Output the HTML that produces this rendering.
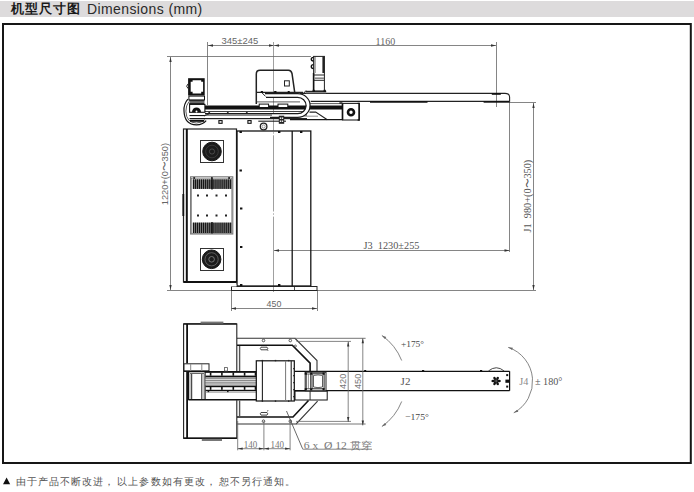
<!DOCTYPE html>
<html><head><meta charset="utf-8"><style>
html,body{margin:0;padding:0;background:#fff;}
body{width:694px;height:492px;overflow:hidden;position:relative;font-family:"Liberation Sans",sans-serif;}
.hdr{position:absolute;left:0;top:1px;width:694px;height:15.5px;background:#dddbdc;}
svg{position:absolute;left:0;top:0;}
</style></head><body>
<div class="hdr"></div>

<svg width="694" height="492" viewBox="0 0 694 492" shape-rendering="auto">
<line x1="208" y1="45.5" x2="496" y2="45.5" stroke="#666" stroke-width="0.8" />
<polygon points="208,45.5 213,44.35 213,46.65" fill="#333"/>
<polygon points="274,45.5 269,44.35 269,46.65" fill="#333"/>
<polygon points="274,45.5 279,44.35 279,46.65" fill="#333"/>
<polygon points="496,45.5 491,44.35 491,46.65" fill="#333"/>
<line x1="207.5" y1="42" x2="207.5" y2="105" stroke="#666" stroke-width="0.8" />
<line x1="496.5" y1="42" x2="496.5" y2="107" stroke="#666" stroke-width="0.8" />
<line x1="273.5" y1="42" x2="273.5" y2="130.5" stroke="#888" stroke-width="0.8" />
<line x1="273.5" y1="132.3" x2="273.5" y2="133.6" stroke="#888" stroke-width="0.8" />
<line x1="273.5" y1="135.3" x2="273.5" y2="211.5" stroke="#888" stroke-width="0.8" />
<line x1="273.5" y1="213.4" x2="273.5" y2="214.7" stroke="#888" stroke-width="0.8" />
<line x1="273.5" y1="216.6" x2="273.5" y2="292" stroke="#888" stroke-width="0.8" />
<line x1="167" y1="56.5" x2="311" y2="56.5" stroke="#666" stroke-width="0.8" />
<line x1="170.5" y1="57" x2="170.5" y2="290" stroke="#666" stroke-width="0.8" />
<polygon points="170.5,57 169.35,62 171.65,62" fill="#333"/>
<polygon points="170.5,290 169.35,285 171.65,285" fill="#333"/>
<line x1="167" y1="290.5" x2="536" y2="290.5" stroke="#666" stroke-width="0.8" />
<line x1="274" y1="250.5" x2="509.5" y2="250.5" stroke="#666" stroke-width="0.8" />
<polygon points="274,250.5 279,249.35 279,251.65" fill="#333"/>
<polygon points="509.5,250.5 504.5,249.35 504.5,251.65" fill="#333"/>
<line x1="509.5" y1="102" x2="509.5" y2="252" stroke="#666" stroke-width="0.8" />
<line x1="509" y1="102.5" x2="536" y2="102.5" stroke="#666" stroke-width="0.8" />
<line x1="533.5" y1="103" x2="533.5" y2="290" stroke="#666" stroke-width="0.8" />
<polygon points="533.5,103 532.35,108 534.65,108" fill="#333"/>
<polygon points="533.5,290 532.35,285 534.65,285" fill="#333"/>
<line x1="231" y1="308.5" x2="317" y2="308.5" stroke="#666" stroke-width="0.8" />
<polygon points="231,308.5 236,307.35 236,309.65" fill="#333"/>
<polygon points="317,308.5 312,307.35 312,309.65" fill="#333"/>
<line x1="231.5" y1="290" x2="231.5" y2="311" stroke="#666" stroke-width="0.8" />
<line x1="317.5" y1="290" x2="317.5" y2="311" stroke="#666" stroke-width="0.8" />
<text x="221.6" y="44.3" font-size="9.6" fill="#666" font-family="Liberation Sans" textLength="36.7" lengthAdjust="spacingAndGlyphs" >345±245</text>
<text x="375.6" y="44.8" font-size="11.3" fill="#666" font-family="Liberation Serif" textLength="19.6" lengthAdjust="spacingAndGlyphs" >1160</text>
<text x="363.6" y="249" font-size="11.3" fill="#555" font-family="Liberation Serif" textLength="55.8" lengthAdjust="spacingAndGlyphs" >J3&#160;&#160;1230±255</text>
<text x="266.6" y="306.6" font-size="9" fill="#666" font-family="Liberation Sans" textLength="14.8" lengthAdjust="spacingAndGlyphs" >450</text>
<text x="167.9" y="205.2" font-size="9.5" fill="#666" font-family="Liberation Sans" textLength="62.2" lengthAdjust="spacingAndGlyphs" transform="rotate(-90 167.9 205.2)" >1220+(0〜350)</text>
<text x="531.4" y="232.4" font-size="10.4" fill="#555" font-family="Liberation Serif" textLength="72.6" lengthAdjust="spacingAndGlyphs" transform="rotate(-90 531.4 232.4)" >J1&#160;&#160;980+(0〜350)</text>
<rect x="183.5" y="129" width="53" height="153" stroke="#222" stroke-width="1.2" fill="#fff" />
<line x1="186.8" y1="129" x2="186.8" y2="282" stroke="#111" stroke-width="2" />
<line x1="183.5" y1="282" x2="236.5" y2="282" stroke="#111" stroke-width="2" />
<rect x="200.5" y="140.5" width="23" height="22" stroke="#333" stroke-width="1" fill="none" />
<circle cx="212" cy="151.5" r="9.3" stroke="#161616" stroke-width="1" fill="#1c1c1c"/>
<circle cx="212" cy="151.5" r="6.3" stroke="#555" stroke-width="0.5" fill="none"/>
<circle cx="212" cy="151.5" r="2.6" stroke="#666" stroke-width="0.6" fill="none"/>
<rect x="200.5" y="248.5" width="23" height="22" stroke="#333" stroke-width="1" fill="none" />
<circle cx="211.6" cy="259.3" r="9.3" stroke="#161616" stroke-width="1" fill="#1c1c1c"/>
<circle cx="211.6" cy="259.3" r="6.6" stroke="#777" stroke-width="0.7" fill="none"/>
<circle cx="211.6" cy="259.3" r="2.8" stroke="#888" stroke-width="0.8" fill="none"/>
<rect x="190.6" y="176.8" width="42.2" height="57.2" stroke="#777" stroke-width="1.1" fill="none" />
<rect x="191.6" y="178.2" width="40.2" height="55" stroke="#666" stroke-width="0.6" fill="none" />
<rect x="192.5" y="179.3" width="38.4" height="9.6" fill="#9a9a9a"/>
<rect x="192.5" y="222.6" width="38.4" height="10.4" fill="#9a9a9a"/>
<rect x="193.0" y="179.3" width="1.25" height="9.6" fill="#151515"/>
<rect x="193.0" y="222.6" width="1.25" height="10.4" fill="#151515"/>
<rect x="194.95" y="179.3" width="1.25" height="9.6" fill="#151515"/>
<rect x="194.95" y="222.6" width="1.25" height="10.4" fill="#151515"/>
<rect x="196.9" y="179.3" width="1.25" height="9.6" fill="#151515"/>
<rect x="196.9" y="222.6" width="1.25" height="10.4" fill="#151515"/>
<rect x="198.85" y="179.3" width="1.25" height="9.6" fill="#151515"/>
<rect x="198.85" y="222.6" width="1.25" height="10.4" fill="#151515"/>
<rect x="200.8" y="179.3" width="1.25" height="9.6" fill="#151515"/>
<rect x="200.8" y="222.6" width="1.25" height="10.4" fill="#151515"/>
<rect x="202.75" y="179.3" width="1.25" height="9.6" fill="#151515"/>
<rect x="202.75" y="222.6" width="1.25" height="10.4" fill="#151515"/>
<rect x="204.7" y="179.3" width="1.25" height="9.6" fill="#151515"/>
<rect x="204.7" y="222.6" width="1.25" height="10.4" fill="#151515"/>
<rect x="206.65" y="179.3" width="1.25" height="9.6" fill="#151515"/>
<rect x="206.65" y="222.6" width="1.25" height="10.4" fill="#151515"/>
<rect x="208.6" y="179.3" width="1.25" height="9.6" fill="#151515"/>
<rect x="208.6" y="222.6" width="1.25" height="10.4" fill="#151515"/>
<rect x="210.55" y="179.3" width="1.25" height="9.6" fill="#151515"/>
<rect x="210.55" y="222.6" width="1.25" height="10.4" fill="#151515"/>
<rect x="212.5" y="179.3" width="1.25" height="9.6" fill="#151515"/>
<rect x="212.5" y="222.6" width="1.25" height="10.4" fill="#151515"/>
<rect x="214.45" y="179.3" width="1.25" height="9.6" fill="#151515"/>
<rect x="214.45" y="222.6" width="1.25" height="10.4" fill="#151515"/>
<rect x="216.4" y="179.3" width="1.25" height="9.6" fill="#151515"/>
<rect x="216.4" y="222.6" width="1.25" height="10.4" fill="#151515"/>
<rect x="218.35" y="179.3" width="1.25" height="9.6" fill="#151515"/>
<rect x="218.35" y="222.6" width="1.25" height="10.4" fill="#151515"/>
<rect x="220.3" y="179.3" width="1.25" height="9.6" fill="#151515"/>
<rect x="220.3" y="222.6" width="1.25" height="10.4" fill="#151515"/>
<rect x="222.25" y="179.3" width="1.25" height="9.6" fill="#151515"/>
<rect x="222.25" y="222.6" width="1.25" height="10.4" fill="#151515"/>
<rect x="224.2" y="179.3" width="1.25" height="9.6" fill="#151515"/>
<rect x="224.2" y="222.6" width="1.25" height="10.4" fill="#151515"/>
<rect x="226.15" y="179.3" width="1.25" height="9.6" fill="#151515"/>
<rect x="226.15" y="222.6" width="1.25" height="10.4" fill="#151515"/>
<rect x="228.1" y="179.3" width="1.25" height="9.6" fill="#151515"/>
<rect x="228.1" y="222.6" width="1.25" height="10.4" fill="#151515"/>
<rect x="230.05" y="179.3" width="1.25" height="9.6" fill="#151515"/>
<rect x="230.05" y="222.6" width="1.25" height="10.4" fill="#151515"/>
<rect x="211.3" y="178.5" width="1.4" height="11" fill="#111"/>
<rect x="211.3" y="222" width="1.4" height="11.5" fill="#111"/>
<rect x="193.29999999999998" y="177.2" width="1.8" height="1.6" fill="#111"/>
<rect x="211.0" y="177.2" width="1.8" height="1.6" fill="#111"/>
<rect x="228.2" y="177.2" width="1.8" height="1.6" fill="#111"/>
<rect x="197" y="194.5" width="2" height="2" fill="#222"/>
<rect x="206" y="194.5" width="2" height="2" fill="#222"/>
<rect x="215.5" y="194.5" width="2" height="2" fill="#222"/>
<rect x="225" y="194.5" width="2" height="2" fill="#222"/>
<rect x="197" y="214.5" width="2" height="2" fill="#222"/>
<rect x="206" y="214.5" width="2" height="2" fill="#222"/>
<rect x="215.5" y="214.5" width="2" height="2" fill="#222"/>
<rect x="225" y="214.5" width="2" height="2" fill="#222"/>
<line x1="183.3" y1="194" x2="183.3" y2="216" stroke="#111" stroke-width="1.8" />
<rect x="237" y="131" width="73.8" height="155" stroke="#151515" stroke-width="1.3" fill="none" />
<line x1="292.2" y1="131" x2="292.2" y2="286" stroke="#151515" stroke-width="1.3" />
<rect x="239.5" y="131" width="2.4" height="2" fill="#111"/>
<rect x="278" y="131" width="2.4" height="2" fill="#111"/>
<rect x="300" y="131" width="2.4" height="2" fill="#111"/>
<rect x="239.5" y="169.5" width="2.4" height="2" fill="#111"/>
<rect x="240" y="207.5" width="2.4" height="2" fill="#111"/>
<rect x="240" y="246" width="2.4" height="2" fill="#111"/>
<rect x="240" y="284" width="2.4" height="2" fill="#111"/>
<rect x="278" y="284" width="2.4" height="2" fill="#111"/>
<rect x="231.5" y="286.5" width="85.5" height="4" stroke="#222" stroke-width="1" fill="none" />
<line x1="294.5" y1="286.5" x2="294.5" y2="290.5" stroke="#222" stroke-width="0.8" />
<rect x="230.5" y="284.5" width="6" height="2" fill="#fff"/>
<rect x="205" y="105.5" width="137" height="4.0" fill="#111"/>
<rect x="205" y="111" width="102" height="1" fill="#444"/>
<rect x="205" y="113" width="102" height="1" fill="#1a1a1a"/>
<rect x="205" y="114" width="102" height="2" fill="#8a8a8a"/>
<rect x="205" y="118" width="102" height="1.2" fill="#222"/>
<rect x="189.5" y="115" width="15.5" height="1.1" fill="#1a1a1a"/>
<rect x="189.5" y="118" width="15.5" height="1.1" fill="#1a1a1a"/>
<path d="M204.5,116 L207,114.6 L209,114" stroke="#222" stroke-width="0.8" fill="none" />
<line x1="310" y1="103.6" x2="342" y2="103.6" stroke="#333" stroke-width="0.8" />
<path d="M309.5,112.1 L315.7,112.1 L327.3,119.7" stroke="#222" stroke-width="1.1" fill="none" />
<line x1="296" y1="116.2" x2="318" y2="116.2" stroke="#777" stroke-width="0.8" />
<line x1="290" y1="119.6" x2="342.5" y2="119.6" stroke="#151515" stroke-width="1.4" />
<rect x="261.0" y="91.2" width="1.8" height="1.6" fill="#111"/>
<rect x="274.5" y="91.2" width="1.8" height="1.6" fill="#111"/>
<rect x="218.9" y="120.6" width="3.2" height="2.7" stroke="#111" stroke-width="1.1" fill="none" />
<rect x="247.9" y="120.6" width="3.2" height="2.7" stroke="#111" stroke-width="1.1" fill="none" />
<polygon points="208.0,113 209.2,111.6 210.39999999999998,113" fill="#222"/>
<polygon points="226.60000000000002,113 227.8,111.6 229.0,113" fill="#222"/>
<polygon points="245.60000000000002,113 246.8,111.6 248.0,113" fill="#222"/>
<rect x="342.5" y="103.4" width="16.6" height="16.6" stroke="#222" stroke-width="1.1" fill="#fff" />
<line x1="342.5" y1="103.4" x2="342.5" y2="120" stroke="#111" stroke-width="1.6" />
<path d="M357.6,103.4 L359.2,103.4 L359.2,120 L357.6,120" stroke="#111" stroke-width="1.4" fill="none" />
<rect x="339.4" y="102.2" width="3" height="1.8" fill="#333"/>
<circle cx="351" cy="112.2" r="3.0" stroke="#111" stroke-width="2.6" fill="#fff"/>
<line x1="300" y1="93.4" x2="505" y2="93.4" stroke="#222" stroke-width="1.1" />
<line x1="310.7" y1="101.3" x2="509" y2="101.3" stroke="#222" stroke-width="1.2" />
<path d="M505,93.4 Q509.6,93.4 509.6,97 L509.6,101.7" stroke="#222" stroke-width="1.1" fill="none" />
<line x1="370" y1="101.9" x2="427.5" y2="101.9" stroke="#111" stroke-width="1.6" />
<line x1="483.6" y1="101.9" x2="509.6" y2="101.9" stroke="#111" stroke-width="1.6" />
<rect x="491.8" y="93" width="9" height="1.8" fill="#111"/>
<path d="M256.3,104 L256.3,74 Q256.3,70.3 260,70.3 L288.5,70.3 Q291.3,70.3 292,73.5 L294.7,92.3" stroke="#222" stroke-width="1.5" fill="none" />
<rect x="284.5" y="80.8" width="4.8" height="5.2" stroke="#222" stroke-width="1" fill="none" />
<line x1="256" y1="92.3" x2="303" y2="92.3" stroke="#222" stroke-width="1.2" />
<rect x="260.8" y="91" width="2" height="2" fill="#111"/>
<rect x="274.3" y="91" width="2" height="2" fill="#111"/>
<rect x="287.7" y="91" width="2" height="2" fill="#111"/>
<line x1="256" y1="101.9" x2="300" y2="101.9" stroke="#333" stroke-width="0.8" />
<rect x="259.2" y="104.1" width="9.4" height="3.4" stroke="#111" stroke-width="1" fill="#fff" />
<rect x="278" y="104.1" width="9.8" height="3.4" stroke="#111" stroke-width="1" fill="#fff" />
<path d="M265,95.5 L297.7,95.5 A10.4,10 0 0 1 297.7,115.5 L272,115.5" stroke="#fff" stroke-width="3.4" fill="none" />
<path d="M262,92.8 L265.5,96.4" stroke="#222" stroke-width="1" fill="none" />
<path d="M265,93.7 L297.7,93.7 A12.4,11.8 0 0 1 297.7,117.3 L270,117.3" stroke="#1a1a1a" stroke-width="1.2" fill="none" />
<path d="M266,97.3 L297.7,97.3 A8.4,8.2 0 0 1 297.7,113.7 L272,113.7" stroke="#1a1a1a" stroke-width="1.2" fill="none" />
<rect x="313.6" y="56.4" width="10.8" height="34.6" stroke="#222" stroke-width="1" fill="none" />
<line x1="315" y1="56.4" x2="315" y2="73" stroke="#333" stroke-width="0.8" />
<rect x="322.4" y="56.4" width="2.1" height="16.6" fill="#222"/>
<line x1="313.6" y1="73" x2="313.6" y2="91" stroke="#111" stroke-width="1.6" />
<line x1="313.6" y1="75" x2="324.4" y2="75" stroke="#222" stroke-width="1" />
<rect x="314" y="77.4" width="10" height="1.6" fill="#888"/>
<line x1="313.6" y1="80.3" x2="324.4" y2="80.3" stroke="#222" stroke-width="1" />
<path d="M313.4,57.4 A2.1,1.8 0 0 0 313.4,61 M313.4,64.6 A2.1,2 0 0 0 313.4,68.6" stroke="#111" stroke-width="1.4" fill="none" />
<rect x="305.6" y="90.8" width="20.6" height="1.6" fill="#222"/>
<rect x="306" y="92.1" width="20" height="1.2" fill="#888"/>
<rect x="312.6" y="89.8" width="2.2" height="2.2" fill="#111"/>
<rect x="323.6" y="89.8" width="2.2" height="2.2" fill="#111"/>
<path d="M306,90.5 L302.9,94.1" stroke="#222" stroke-width="1" fill="none" />
<line x1="258.3" y1="121.2" x2="286" y2="121.2" stroke="#222" stroke-width="1.1" />
<circle cx="263.6" cy="126.5" r="3.3" stroke="#222" stroke-width="1.3" fill="#fff"/>
<circle cx="263.6" cy="126.5" r="1.6" stroke="#555" stroke-width="0.6" fill="#fff"/>
<rect x="278.8" y="115.7" width="5.4" height="8.1" fill="#222"/>
<rect x="279.8" y="117.5" width="1.4" height="1.4" fill="#fff"/>
<rect x="281.8" y="117.5" width="1.4" height="1.4" fill="#fff"/>
<rect x="279.8" y="120.5" width="1.4" height="1.4" fill="#fff"/>
<rect x="281.8" y="120.5" width="1.4" height="1.4" fill="#fff"/>
<rect x="188.1" y="78.2" width="16.6" height="17.3" fill="#111"/>
<polygon points="192.6,80.2 201.2,80.2 201.2,81.8 203.1,81.8 203.1,91.8 201.2,91.8 201.2,93.5 192.6,93.5 192.6,91.8 190.7,91.8 190.7,81.8 192.6,81.8" fill="#fff"/>
<path d="M188.1,83.8 Q185.2,86.2 188.1,88.6" stroke="#222" stroke-width="1" fill="none" />
<rect x="188.9" y="96.1" width="15.6" height="3.8" stroke="#111" stroke-width="1" fill="#fff" />
<rect x="189.5" y="100.6" width="15" height="2.6" fill="#777"/>
<line x1="189.2" y1="100.7" x2="204.4" y2="100.7" stroke="#111" stroke-width="1" />
<line x1="189.2" y1="103.4" x2="204.4" y2="103.4" stroke="#111" stroke-width="1" />
<rect x="189.6" y="104.4" width="15.3" height="7.9" stroke="#111" stroke-width="1.1" fill="#fff" />
<path d="M192,112 A4.5,4.5 0 0 1 201,112 Z" stroke="#111" stroke-width="0" fill="#111" />
<circle cx="196.5" cy="111.4" r="1" stroke="none" stroke-width="0" fill="#fff"/>
<path d="M187.9,99.2 Q183.6,104 184,111 Q184.5,124.8 196.5,124.8 Q202.5,124.8 206.2,120.6" stroke="#111" stroke-width="1.2" fill="none" />
<path d="M189,101.5 Q185.8,105.5 185.9,111.2 Q186.3,123 196.5,123 Q201.5,123 205,119.5" stroke="#333" stroke-width="0.8" fill="none" />
<rect x="190" y="119.8" width="14" height="2" fill="#111"/>
<path d="M237,338.3 L295,338.3 L317,360.5 L317,371 M317.6,401.2 L296.2,424 L237,424" stroke="#333" stroke-width="1.1" fill="none" />
<path d="M237,345.3 L292.3,345.3 L310.1,363.1 L310.1,371" stroke="#111" stroke-width="1.6" fill="none" />
<line x1="239.6" y1="346" x2="239.6" y2="371" stroke="#555" stroke-width="1.4" />
<path d="M237,417 L293,417 L308.5,400.5" stroke="#111" stroke-width="1.6" fill="none" />
<line x1="239.6" y1="400.5" x2="239.6" y2="416.5" stroke="#555" stroke-width="1.4" />
<circle cx="263.5" cy="340.5" r="1.3" stroke="#333" stroke-width="0.8" fill="#fff"/>
<circle cx="290.3" cy="340.5" r="1.3" stroke="#333" stroke-width="0.8" fill="#fff"/>
<circle cx="263.5" cy="421.2" r="1.3" stroke="#333" stroke-width="0.8" fill="#fff"/>
<circle cx="290.3" cy="421.2" r="1.3" stroke="#333" stroke-width="0.8" fill="#fff"/>
<circle cx="295.4" cy="346" r="1" stroke="#333" stroke-width="0.7" fill="#fff"/>
<path d="M261,347.2 L267,347.2 Q268.5,348.5 267,349.8 L261,349.8 Q259.5,348.5 261,347.2 Z" stroke="#333" stroke-width="0.9" fill="#fff" />
<path d="M261,412.5 L267,412.5 Q268.5,413.8 267,415.1 L261,415.1 Q259.5,413.8 261,412.5 Z" stroke="#333" stroke-width="0.9" fill="#fff" />
<line x1="267.5" y1="349.5" x2="268" y2="351" stroke="#333" stroke-width="0.7" />
<line x1="267.5" y1="411.5" x2="268" y2="410" stroke="#333" stroke-width="0.7" />
<rect x="183.6" y="324" width="53.2" height="114.2" stroke="#222" stroke-width="1.1" fill="#fff" />
<line x1="187.1" y1="324" x2="187.1" y2="363.6" stroke="#111" stroke-width="1.8" />
<line x1="187.1" y1="372" x2="187.1" y2="438" stroke="#111" stroke-width="1.8" />
<line x1="183.5" y1="438.2" x2="236.8" y2="438.2" stroke="#111" stroke-width="1.6" />
<line x1="183.5" y1="323.9" x2="236.8" y2="323.9" stroke="#111" stroke-width="1.4" />
<rect x="200.6" y="321.6" width="22.8" height="2.0" fill="#777"/>
<rect x="201.8" y="438.8" width="20.2" height="2.2" fill="#777"/>
<rect x="184" y="363.8" width="25" height="7.4" stroke="#222" stroke-width="1" fill="#fff" />
<line x1="184" y1="371.2" x2="209" y2="371.2" stroke="#111" stroke-width="1.4" />
<line x1="190.7" y1="364" x2="190.7" y2="371" stroke="#888" stroke-width="1" />
<line x1="201.8" y1="364" x2="201.8" y2="371" stroke="#888" stroke-width="1" />
<rect x="188.4" y="371.2" width="68.5" height="29" fill="#fff"/>
<line x1="188.4" y1="371.6" x2="257" y2="371.6" stroke="#111" stroke-width="1.3" />
<line x1="188.4" y1="399.8" x2="257" y2="399.8" stroke="#111" stroke-width="1.4" />
<line x1="188.6" y1="371" x2="188.6" y2="400" stroke="#111" stroke-width="1.2" />
<line x1="190.2" y1="374" x2="190.2" y2="399" stroke="#999" stroke-width="0.8" />
<line x1="191.7" y1="374" x2="191.7" y2="399" stroke="#222" stroke-width="1" />
<line x1="201.8" y1="374" x2="201.8" y2="399" stroke="#222" stroke-width="1" />
<line x1="203.9" y1="374" x2="203.9" y2="399" stroke="#999" stroke-width="0.8" />
<line x1="190" y1="373.5" x2="204" y2="373.5" stroke="#444" stroke-width="0.8" />
<line x1="205.1" y1="371.6" x2="205.1" y2="400" stroke="#111" stroke-width="1.1" />
<rect x="205.1" y="372.2" width="52" height="0.8" fill="#111"/>
<rect x="205.6" y="375.6" width="51.4" height="1.7" fill="#111"/>
<rect x="209.79999999999998" y="372.5" width="1.6" height="3.2" fill="#111"/>
<rect x="209.79999999999998" y="387" width="1.6" height="2.8" fill="#111"/>
<rect x="221.1" y="372.5" width="1.6" height="3.2" fill="#111"/>
<rect x="221.1" y="387" width="1.6" height="2.8" fill="#111"/>
<rect x="232.5" y="372.5" width="1.6" height="3.2" fill="#111"/>
<rect x="232.5" y="387" width="1.6" height="2.8" fill="#111"/>
<rect x="243.79999999999998" y="372.5" width="1.6" height="3.2" fill="#111"/>
<rect x="243.79999999999998" y="387" width="1.6" height="2.8" fill="#111"/>
<rect x="254.7" y="372.5" width="1.6" height="3.2" fill="#111"/>
<rect x="254.7" y="387" width="1.6" height="2.8" fill="#111"/>
<rect x="205.6" y="377.3" width="51.4" height="8.4" fill="#8a8a8a"/>
<rect x="205.6" y="378.9" width="51.4" height="0.9" fill="#eee"/>
<rect x="205.6" y="381.3" width="51.4" height="0.9" fill="#eee"/>
<rect x="205.6" y="383.6" width="51.4" height="0.9" fill="#eee"/>
<rect x="205.6" y="385.8" width="51.4" height="1.4" fill="#111"/>
<rect x="205.6" y="389.8" width="51.4" height="1.4" fill="#111"/>
<rect x="207.6" y="391" width="1.6" height="1.2" fill="#111"/>
<rect x="227" y="391" width="1.6" height="1.2" fill="#111"/>
<line x1="205.6" y1="392.3" x2="257" y2="392.3" stroke="#888" stroke-width="0.7" />
<rect x="224.4" y="367.6" width="3.2" height="3.4" stroke="#555" stroke-width="0.8" fill="none" />
<rect x="256.3" y="360.8" width="38" height="40.2" stroke="#111" stroke-width="1.2" fill="#fff" />
<line x1="262.4" y1="360.8" x2="262.4" y2="401" stroke="#222" stroke-width="1.1" />
<line x1="285.6" y1="360.8" x2="285.6" y2="401" stroke="#777" stroke-width="1" />
<line x1="291.2" y1="360.8" x2="291.2" y2="401" stroke="#222" stroke-width="1.1" />
<rect x="261.7" y="359.9" width="1.4" height="1.4" fill="#222"/>
<rect x="261.7" y="400.4" width="1.4" height="1.4" fill="#222"/>
<rect x="274.8" y="359.9" width="1.4" height="1.4" fill="#222"/>
<rect x="274.8" y="400.4" width="1.4" height="1.4" fill="#222"/>
<rect x="288.0" y="359.9" width="1.4" height="1.4" fill="#222"/>
<rect x="288.0" y="400.4" width="1.4" height="1.4" fill="#222"/>
<rect x="293.2" y="368" width="1.5" height="1.3" fill="#222"/>
<rect x="293.2" y="375" width="1.5" height="1.3" fill="#222"/>
<rect x="293.2" y="382" width="1.5" height="1.3" fill="#222"/>
<rect x="293.2" y="389" width="1.5" height="1.3" fill="#222"/>
<rect x="293.2" y="396" width="1.5" height="1.3" fill="#222"/>
<line x1="294.5" y1="371.3" x2="509.6" y2="371.3" stroke="#111" stroke-width="1.2" />
<line x1="327" y1="390.7" x2="509.6" y2="390.7" stroke="#111" stroke-width="1.2" />
<line x1="509.6" y1="371.3" x2="509.6" y2="390.7" stroke="#111" stroke-width="1.2" />
<rect x="295" y="390.8" width="32.2" height="9.2" stroke="#111" stroke-width="1" fill="#fff" />
<line x1="295" y1="390.8" x2="327.2" y2="390.8" stroke="#111" stroke-width="1.6" />
<line x1="310.1" y1="391" x2="310.1" y2="400" stroke="#222" stroke-width="0.9" />
<rect x="305.2" y="372.2" width="20.8" height="18.6" stroke="#222" stroke-width="1" fill="#fff" />
<rect x="312" y="373.8" width="12.1" height="15" stroke="#222" stroke-width="1" fill="#fff" />
<path d="M313.5,375.5 Q318,374.3 322.5,375.5 L322.5,387 Q318,388.3 313.5,387 Z" stroke="#333" stroke-width="0.8" fill="none" />
<rect x="306.3" y="374" width="4.2" height="14.8" stroke="#333" stroke-width="0.8" fill="none" />
<line x1="308.4" y1="374" x2="308.4" y2="388.8" stroke="#666" stroke-width="0.7" />
<rect x="310.09999999999997" y="372.5" width="2.2" height="2.2" fill="#111"/>
<rect x="322.5" y="372.5" width="2.2" height="2.2" fill="#111"/>
<rect x="310.09999999999997" y="388.2" width="2.2" height="2.2" fill="#111"/>
<rect x="322.5" y="388.2" width="2.2" height="2.2" fill="#111"/>
<rect x="304.7" y="372.5" width="2.2" height="2.2" fill="#111"/>
<rect x="304.7" y="388.2" width="2.2" height="2.2" fill="#111"/>
<line x1="296.5" y1="341.4" x2="351" y2="341.4" stroke="#666" stroke-width="0.8" />
<line x1="296" y1="421.4" x2="351" y2="421.4" stroke="#666" stroke-width="0.8" />
<line x1="295" y1="338.3" x2="365.6" y2="338.3" stroke="#666" stroke-width="0.9" />
<line x1="296" y1="424" x2="365.6" y2="424" stroke="#666" stroke-width="0.9" />
<line x1="348.2" y1="341.5" x2="348.2" y2="422" stroke="#666" stroke-width="0.8" />
<polygon points="348.2,341.5 347.05,346.5 349.34999999999997,346.5" fill="#333"/>
<polygon points="348.2,422 347.05,417 349.34999999999997,417" fill="#333"/>
<line x1="362.8" y1="338.3" x2="362.8" y2="425.4" stroke="#666" stroke-width="0.8" />
<polygon points="362.8,338.3 361.65000000000003,343.3 363.95,343.3" fill="#333"/>
<polygon points="362.8,425.4 361.65000000000003,420.4 363.95,420.4" fill="#333"/>
<text x="345.8" y="389" font-size="9" fill="#777" font-family="Liberation Sans" textLength="15.4" lengthAdjust="spacingAndGlyphs" transform="rotate(-90 345.8 389)" >420</text>
<text x="360.8" y="389" font-size="9" fill="#777" font-family="Liberation Sans" textLength="15.4" lengthAdjust="spacingAndGlyphs" transform="rotate(-90 360.8 389)" >450</text>
<text x="400.6" y="385.4" font-size="10.4" fill="#555" font-family="Liberation Serif" textLength="9.8" lengthAdjust="spacingAndGlyphs" >J2</text>
<rect x="364.2" y="370" width="2" height="1.5" fill="#111"/>
<rect x="422" y="370" width="2.2" height="1.5" fill="#111"/>
<rect x="480" y="370" width="2.2" height="1.5" fill="#111"/>
<path d="M488.4,371 Q496.3,364.5 504.2,371" stroke="#333" stroke-width="0.9" fill="none" />
<ellipse cx="499.00" cy="381.00" rx="1.8" ry="1.25" transform="rotate(0 499.00 381.00)" fill="#111"/>
<ellipse cx="497.55" cy="383.51" rx="1.8" ry="1.25" transform="rotate(60 497.55 383.51)" fill="#111"/>
<ellipse cx="494.65" cy="383.51" rx="1.8" ry="1.25" transform="rotate(120 494.65 383.51)" fill="#111"/>
<ellipse cx="493.20" cy="381.00" rx="1.8" ry="1.25" transform="rotate(180 493.20 381.00)" fill="#111"/>
<ellipse cx="494.65" cy="378.49" rx="1.8" ry="1.25" transform="rotate(240 494.65 378.49)" fill="#111"/>
<ellipse cx="497.55" cy="378.49" rx="1.8" ry="1.25" transform="rotate(300 497.55 378.49)" fill="#111"/>
<circle cx="496.1" cy="381" r="1.8" stroke="none" stroke-width="0" fill="#111"/>
<circle cx="496.1" cy="381" r="0.8" stroke="none" stroke-width="0" fill="#999"/>
<rect x="506.2" y="374.1" width="2" height="2" fill="#111"/>
<rect x="506.2" y="385.6" width="2" height="2" fill="#111"/>
<rect x="505.4" y="379.6" width="4.6" height="3.2" fill="#111"/>
<text x="519.3" y="385.4" font-size="10.4" fill="#888" font-family="Liberation Serif" textLength="9.1" lengthAdjust="spacingAndGlyphs" >J4</text>
<text x="535" y="385.4" font-size="10.4" fill="#555" font-family="Liberation Serif" textLength="27.4" lengthAdjust="spacingAndGlyphs" >±&#160;180°</text>
<path d="M508.22,347.37 A35.8,35.8 0 0 1 513.77,412.82" stroke="#666" stroke-width="0.8" fill="none"/>
<polygon points="508.22,347.37 512.87,347.67 512.10,349.94" fill="#666"/>
<polygon points="513.77,412.82 517.17,409.63 518.30,411.74" fill="#666"/>
<text x="400.9" y="346.9" font-size="9.2" fill="#444" font-family="Liberation Serif" textLength="23.2" lengthAdjust="spacingAndGlyphs" >+175°</text>
<text x="405" y="420.4" font-size="9.2" fill="#444" font-family="Liberation Serif" textLength="23.9" lengthAdjust="spacingAndGlyphs" >−175°</text>
<path d="M381.89,335.46 A55.6,55.6 0 0 1 401.70,360.53" stroke="#666" stroke-width="0.8" fill="none"/>
<polygon points="381.89,335.46 386.27,337.05 384.89,339.02" fill="#666"/>
<path d="M381.89,426.54 A55.6,55.6 0 0 0 401.70,401.47" stroke="#666" stroke-width="0.8" fill="none"/>
<polygon points="381.89,426.54 384.89,422.98 386.27,424.95" fill="#666"/>
<line x1="237.7" y1="421" x2="237.7" y2="450.3" stroke="#666" stroke-width="0.8" />
<line x1="263.9" y1="421" x2="263.9" y2="450.3" stroke="#666" stroke-width="0.8" />
<line x1="290.1" y1="421" x2="290.1" y2="450.3" stroke="#666" stroke-width="0.8" />
<line x1="237.7" y1="448.7" x2="290.1" y2="448.7" stroke="#666" stroke-width="0.8" />
<polygon points="237.7,448.7 242.7,447.55 242.7,449.84999999999997" fill="#333"/>
<polygon points="263.9,448.7 258.9,447.55 258.9,449.84999999999997" fill="#333"/>
<polygon points="263.9,448.7 268.9,447.55 268.9,449.84999999999997" fill="#333"/>
<polygon points="290.1,448.7 285.1,447.55 285.1,449.84999999999997" fill="#333"/>
<text x="243.7" y="447.7" font-size="11" fill="#777" font-family="Liberation Serif" textLength="13.5" lengthAdjust="spacingAndGlyphs" >140</text>
<text x="270.5" y="447.7" font-size="11" fill="#777" font-family="Liberation Serif" textLength="13.5" lengthAdjust="spacingAndGlyphs" >140</text>
<line x1="286.5" y1="411" x2="302.6" y2="448.8" stroke="#444" stroke-width="0.8" />
<line x1="302.6" y1="449.2" x2="372" y2="449.2" stroke="#666" stroke-width="0.8" />
<text x="303.7" y="448.6" font-size="10.4" fill="#777" font-family="Liberation Serif" textLength="68.4" lengthAdjust="spacingAndGlyphs" >6&#160;x&#160;&#160;Ø&#160;12&#160;贯穿</text>
<rect x="3" y="24" width="687.8" height="439" fill="none" stroke="#161616" stroke-width="2"/>
<text x="10.5" y="13.0" font-size="13" font-weight="bold" fill="#1a1a1a" letter-spacing="1.1" font-family="Liberation Sans">机型尺寸图</text>
<text x="87" y="13.5" font-size="14" fill="#2a2a2a" letter-spacing="0.4" font-family="Liberation Sans">Dimensions (mm)</text>
<polygon points="3,484.3 6.6,477.6 10.2,484.3" fill="#111"/>
<text x="15.6" y="485" font-size="10.2" fill="#555" letter-spacing="1.06" font-family="Liberation Sans">由于产品不断改进，<tspan dx="2.2">以上参数如有更改，</tspan><tspan dx="2.2">恕不另行通知。</tspan></text>
</svg>

</body></html>
